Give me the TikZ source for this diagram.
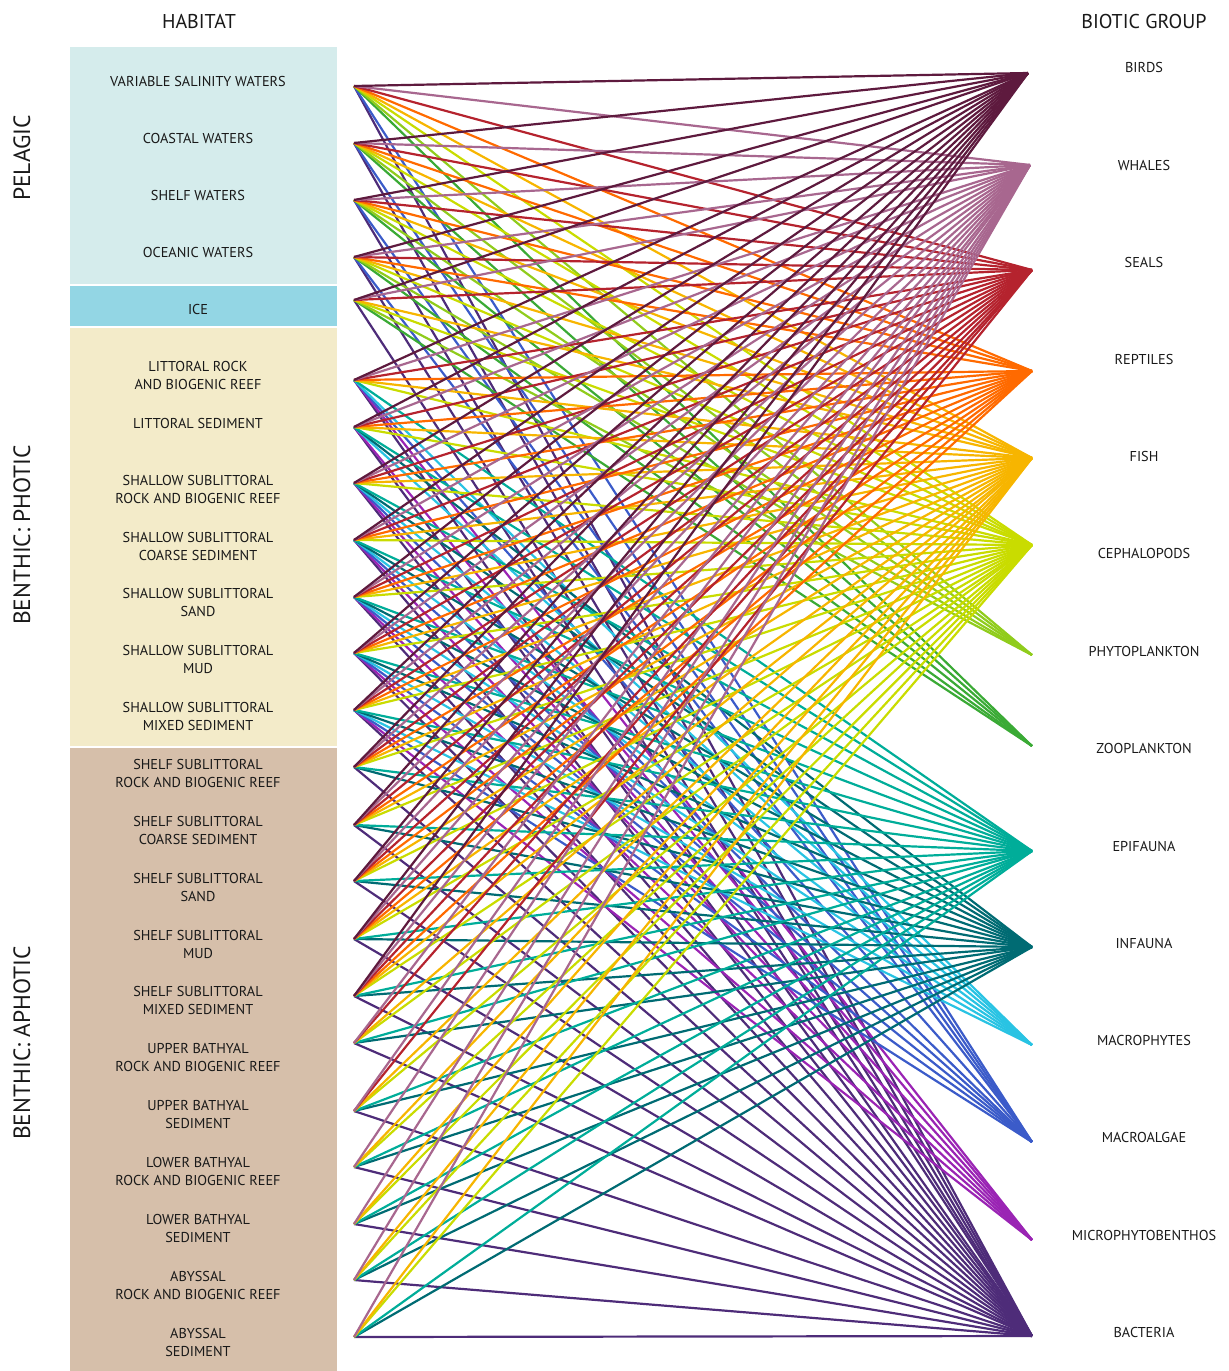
\documentclass[tikz,border=0pt]{standalone}
\usepackage{fontspec}
\setmainfont{PT Sans}
% band colours
\definecolor{pelband}{HTML}{D5ECEC}
\definecolor{iceband}{HTML}{93D6E4}
\definecolor{photband}{HTML}{F3EBC9}
\definecolor{aphband}{HTML}{D6BFAA}
% biotic group colours
\definecolor{col1}{HTML}{5E1A3E}
\definecolor{col2}{HTML}{A8678F}
\definecolor{col3}{HTML}{B5232E}
\definecolor{col4}{HTML}{FF6A00}
\definecolor{col5}{HTML}{F7B500}
\definecolor{col6}{HTML}{C9DC00}
\definecolor{col7}{HTML}{90CC1C}
\definecolor{col8}{HTML}{3AAA35}
\definecolor{col9}{HTML}{00AD99}
\definecolor{col10}{HTML}{006B73}
\definecolor{col11}{HTML}{29C3E3}
\definecolor{col12}{HTML}{3B5BC9}
\definecolor{col13}{HTML}{9A24B4}
\definecolor{col14}{HTML}{4E2C79}
\begin{document}
\begin{tikzpicture}[x=1pt,y=-1pt,
  hablab/.style={font=\fontsize{14.3}{18}\selectfont, align=center, text=black!90, inner sep=0pt},
  grplab/.style={font=\fontsize{14.3}{18}\selectfont, text=black!90, inner sep=0pt},
  headlab/.style={font=\fontsize{20}{24}\selectfont, text=black!90, inner sep=0pt},
  sidelab/.style={font=\fontsize{23.5}{26}\selectfont, text=black!90, rotate=90, inner sep=0pt},
  link/.style={line width=2.2pt}]
\useasboundingbox (0,0) rectangle (1229,1371);

% habitat bands
\fill[pelband] (70,47) rectangle (337,284);
\fill[iceband] (70,285.5) rectangle (337,326);
\fill[photband] (70,328) rectangle (337,746);
\fill[aphband] (70,748) rectangle (337,1371);

% headings
\node[headlab] (hhab) at (199,21) {HABITAT};
\node[headlab] (hgrp) at (1144,21) {BIOTIC GROUP};
\node[sidelab] (spel) at (22,158) {PELAGIC};
\node[sidelab] (spho) at (22,535) {BENTHIC: PHOTIC};
\node[sidelab] (saph) at (22,1043) {BENTHIC: APHOTIC};

% habitats: index / point y / label y / label
\foreach \i/\py/\ly/\txt in {
  1/86/81/{VARIABLE SALINITY WATERS},
  2/143/138/{COASTAL WATERS},
  3/200/195/{SHELF WATERS},
  4/257/252/{OCEANIC WATERS},
  5/300/309/{ICE},
  6/380/375/{LITTORAL ROCK\\AND BIOGENIC REEF},
  7/427/423/{LITTORAL SEDIMENT},
  8/483/489/{SHALLOW SUBLITTORAL\\ROCK AND BIOGENIC REEF},
  9/540/546/{SHALLOW SUBLITTORAL\\COARSE SEDIMENT},
  10/597/602/{SHALLOW SUBLITTORAL\\SAND},
  11/653/659/{SHALLOW SUBLITTORAL\\MUD},
  12/710/716/{SHALLOW SUBLITTORAL\\MIXED SEDIMENT},
  13/767/773/{SHELF SUBLITTORAL\\ROCK AND BIOGENIC REEF},
  14/825/830/{SHELF SUBLITTORAL\\COARSE SEDIMENT},
  15/881/887/{SHELF SUBLITTORAL\\SAND},
  16/939/944/{SHELF SUBLITTORAL\\MUD},
  17/996/1000/{SHELF SUBLITTORAL\\MIXED SEDIMENT},
  18/1043/1057/{UPPER BATHYAL\\ROCK AND BIOGENIC REEF},
  19/1111/1114/{UPPER BATHYAL\\SEDIMENT},
  20/1167/1171/{LOWER BATHYAL\\ROCK AND BIOGENIC REEF},
  21/1224/1228/{LOWER BATHYAL\\SEDIMENT},
  22/1280/1285/{ABYSSAL\\ROCK AND BIOGENIC REEF},
  23/1337/1342/{ABYSSAL\\SEDIMENT}}
{
  \coordinate (h\i) at (354,\py);
  \node[hablab] (hl\i) at (198,\ly) {\txt};
}

% biotic groups: index / end x / end y / label y / label
\foreach \j/\gx/\gy/\ly/\txt in {
  1/1028/73/67/BIRDS,
  2/1030/165/165/WHALES,
  3/1032/270/262/SEALS,
  4/1032/371/359/REPTILES,
  5/1032/458/456/FISH,
  6/1032/545/553/CEPHALOPODS,
  7/1032/655/651/PHYTOPLANKTON,
  8/1032/746/748/ZOOPLANKTON,
  9/1032/851/846/EPIFAUNA,
  10/1032/947/943/INFAUNA,
  11/1032/1045/1040/MACROPHYTES,
  12/1032/1142/1137/MACROALGAE,
  13/1032/1240/1235/MICROPHYTOBENTHOS,
  14/1032/1336/1332/BACTERIA}
{
  \coordinate (g\j) at (\gx,\gy);
  \node[grplab] (gl\j) at (1144,\ly) {\txt};
}

% links: biotic group / habitats it occurs in
\foreach \j/\hs in {
  14/{1,2,3,4,5,6,7,8,9,10,11,12,13,14,15,16,17,18,19,20,21,22,23},
  13/{6,7,8,9,10,11,12},
  12/{1,2,3,4,6,8,9,10,11,12},
  11/{6,7,8,9,10,11,12},
  10/{7,8,9,10,11,12,13,14,15,16,17,18,19,20,21,22,23},
  9/{6,7,8,9,10,11,12,13,14,15,16,17,18,19,20,21,22,23},
  8/{1,2,3,4,5},
  7/{1,2,3,4,5},
  6/{1,2,3,4,5,6,7,8,9,10,11,12,13,14,15,16,17,18,19,20,21,22,23},
  5/{1,2,3,4,5,6,7,8,9,10,11,12,13,14,15,16,17,18,19,20,21,22,23},
  4/{1,2,3,4,6,7,8,9,10,11,12,13,14,15,16,17},
  3/{1,2,3,4,5,6,7,8,9,10,11,12,13,14,15,16,17,18,19},
  2/{1,2,3,4,5,6,7,8,9,10,11,12,13,14,15,16,17,18,19,20,21,22,23},
  1/{1,2,3,4,5,6,7,8,9,10,11,12,13,14,15,16,17}}
{
  \foreach \i in \hs {
    \draw[link, draw=col\j] (h\i) -- (g\j);
  }
}
\end{tikzpicture}
\end{document}
